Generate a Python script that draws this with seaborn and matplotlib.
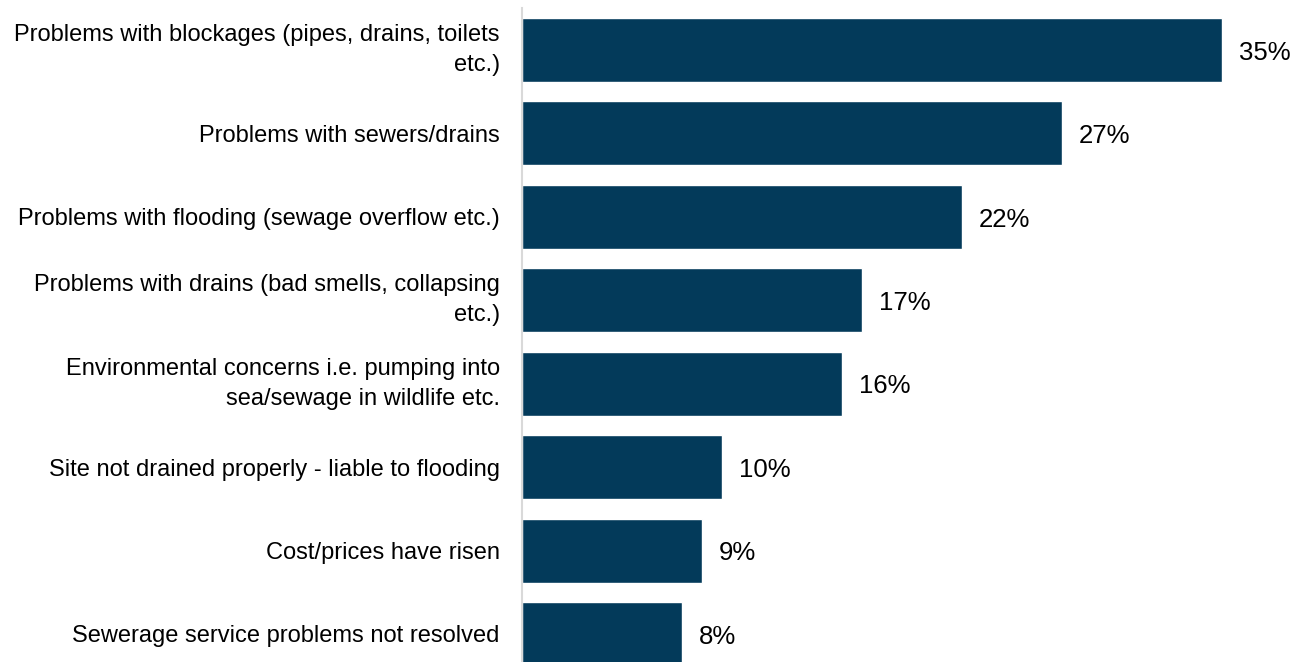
import matplotlib
matplotlib.use("Agg")
import matplotlib.pyplot as plt
import seaborn as sns
import pandas as pd

categories = [
    "Problems with blockages (pipes, drains, toilets\netc.)",
    "Problems with sewers/drains",
    "Problems with flooding (sewage overflow etc.)",
    "Problems with drains (bad smells, collapsing\netc.)",
    "Environmental concerns i.e. pumping into\nsea/sewage in wildlife etc.",
    "Site not drained properly - liable to flooding",
    "Cost/prices have risen",
    "Sewerage service problems not resolved",
]
values = [35, 27, 22, 17, 16, 10, 9, 8]

sns.set_theme(style="white")
plt.rcParams["font.family"] = ["Liberation Sans", "DejaVu Sans"]

W, H = 1295, 662
fig = plt.figure(figsize=(W / 100, H / 100), dpi=100)
ax = fig.add_axes([522 / W, -13.7 / H, (W - 522) / W, 667.4 / H])

df = pd.DataFrame({"category": categories, "value": values})
sns.barplot(data=df, x="value", y="category", orient="h", color="#033A5A",
            saturation=1, width=0.767, ax=ax)

ax.set_xlim(0, (W - 522) / 20)
ax.set_ylim(7.5, -0.5)
ax.set_xlabel("")
ax.set_ylabel("")
ax.set_xticks([])
for s in ["top", "right", "bottom"]:
    ax.spines[s].set_visible(False)
ax.spines["left"].set_color("#D9D9D9")
ax.spines["left"].set_linewidth(1.5)
ax.tick_params(axis="y", length=0, pad=16, labelsize=17, labelcolor="#000000")
for lbl in ax.get_yticklabels():
    lbl.set_linespacing(1.45)
    if "\n" in lbl.get_text():
        lbl.set_verticalalignment("center")

for i, v in enumerate(values):
    ax.annotate(f"{v}%", xy=(v, i), xytext=(12, -2), textcoords="offset points",
                ha="left", va="center", fontsize=18.5, color="#000000")

fig.savefig("out.png", dpi=100)
